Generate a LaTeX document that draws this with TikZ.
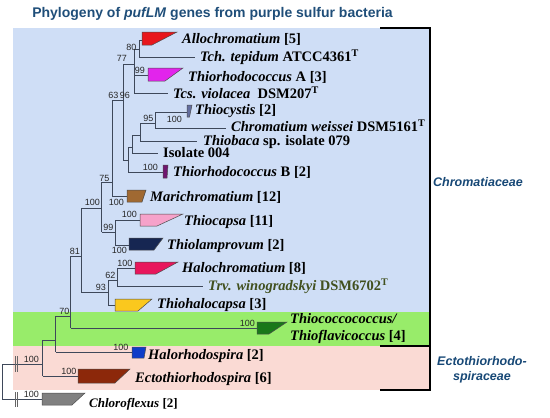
\documentclass[tikz,border=0pt]{standalone}
\usepackage{fontspec}
\setmainfont{Liberation Serif}
\setsansfont{Liberation Sans}
\definecolor{bgblue}{RGB}{207,222,246}
\definecolor{bggreen}{RGB}{152,236,106}
\definecolor{bgpink}{RGB}{250,218,212}
\definecolor{brcol}{RGB}{62,72,90}
\definecolor{titleblue}{RGB}{31,78,121}
\definecolor{famblue}{RGB}{23,72,118}
\definecolor{cAllo}{RGB}{232,22,28}
\definecolor{cThrA}{RGB}{226,36,236}
\definecolor{cTcy}{RGB}{100,110,160}
\definecolor{cThrB}{RGB}{112,22,112}
\definecolor{cMari}{RGB}{160,105,50}
\definecolor{cTcap}{RGB}{246,162,202}
\definecolor{cTlam}{RGB}{22,38,82}
\definecolor{cHcr}{RGB}{232,22,92}
\definecolor{cThc}{RGB}{250,200,30}
\definecolor{cTcc}{RGB}{25,120,25}
\definecolor{cHrs}{RGB}{15,60,200}
\definecolor{cEct}{RGB}{140,40,10}
\definecolor{cChl}{RGB}{128,128,128}
\definecolor{trvcol}{RGB}{65,80,30}
\newcommand{\brn}[2]{\draw[brl] (#1 |- #2) -- (#2);}
\newcommand{\vbr}[3]{\draw[brl] (#1 |- #2) -- (#1 |- #3);}
\newcommand{\trap}[6]{\filldraw[clade, fill=#1] (#2,#3) -- (#4,#3) -- (#5,#6) -- (#2,#6) -- cycle;}
\begin{document}
\begin{tikzpicture}[x=1pt,y=-1pt,
  brl/.style={draw=brcol, line width=0.9pt},
  clade/.style={draw=black!70, line width=0.5pt},
  brk/.style={draw=black!60, line width=0.9pt},
  bs/.style={font=\fontsize{9}{9}\selectfont\sffamily, inner sep=0pt, anchor=base east, text=black!85},
  leaf/.style={font=\fontsize{14.5}{16}\selectfont\bfseries, inner sep=0pt, anchor=base west},
  fam/.style={font=\fontsize{12.5}{15}\selectfont\sffamily\bfseries\itshape, text=famblue, align=center},
  ttl/.style={font=\fontsize{14}{16}\selectfont\sffamily\bfseries, text=titleblue}]
\useasboundingbox (0,0) rectangle (550,418);
% backgrounds
\fill[bgblue] (13,28) rectangle (430,312);
\fill[bggreen] (13,312) rectangle (430,346);
\fill[bgpink] (13,346) rectangle (430,390);
% brackets
\draw[line width=2pt] (380,28) -- (430,28) -- (430,390) -- (380,390);
\draw[line width=2pt] (380,346) -- (430,346);
% title and family labels
\node[ttl] (title) at (212.5,14) {Phylogeny of \textit{pufLM} genes from purple sulfur bacteria};
\node[fam] (chrom) at (478,182) {Chromatiaceae};
\node[fam] (ecto) at (482,369.5) {Ectothiorhodo-\\spiraceae};
% internal nodes
\coordinate (R) at (2,382);
\coordinate (A) at (42.7,364);
\coordinate (B) at (55.5,340);
\coordinate (C) at (70.7,316);
\coordinate (D) at (81,256);
\coordinate (E) at (101.7,208);
\coordinate (n75) at (112,182);
\coordinate (n63) at (123,100);
\coordinate (n77) at (134,64);
\coordinate (n80) at (139,49);
\coordinate (n96) at (134,84);
\coordinate (Y) at (128,160);
\coordinate (Z) at (132,147);
\coordinate (W) at (140,135);
\coordinate (n95) at (155,123.5);
\coordinate (n99) at (115,232);
\coordinate (n93) at (108,292);
\coordinate (n62) at (117,280);
% leaves
\coordinate (allo) at (142,40);
\coordinate (tch) at (195,57);
\coordinate (thrA) at (148,75);
\coordinate (tcs) at (168,93);
\coordinate (tcy) at (187,112);
\coordinate (chw) at (226,128);
\coordinate (thb) at (197,141);
\coordinate (iso) at (158,153);
\coordinate (thrB) at (163,172);
\coordinate (mari) at (127,196);
\coordinate (tcap) at (140,220);
\coordinate (tlam) at (129,245);
\coordinate (hcr) at (135,268);
\coordinate (trv) at (203,286);
\coordinate (thc) at (115,305);
\coordinate (tcc) at (257,328);
\coordinate (hrs) at (132,352);
\coordinate (ect) at (78,376);
\coordinate (chl) at (42,399);
% verticals
\vbr{R}{A}{chl}
\vbr{A}{B}{ect}
\vbr{B}{C}{hrs}
\vbr{C}{D}{tcc}
\vbr{D}{E}{n93}
\vbr{E}{n75}{n99}
\vbr{n75}{n63}{mari}
\vbr{n63}{n77}{Y}
\vbr{n77}{n80}{n96}
\vbr{n80}{allo}{tch}
\vbr{n96}{thrA}{tcs}
\vbr{Y}{Z}{thrB}
\vbr{Z}{W}{iso}
\vbr{W}{n95}{thb}
\vbr{n95}{tcy}{chw}
\vbr{n99}{tcap}{tlam}
\vbr{n93}{n62}{thc}
\vbr{n62}{hcr}{trv}
% horizontals
\brn{R}{A}\brn{R}{chl}
\brn{A}{B}\brn{A}{ect}
\brn{B}{C}\brn{B}{hrs}
\brn{C}{D}\brn{C}{tcc}
\brn{D}{E}\brn{D}{n93}
\brn{E}{n75}\brn{E}{n99}
\brn{n75}{n63}\brn{n75}{mari}
\brn{n63}{n77}\brn{n63}{Y}
\brn{n77}{n80}\brn{n77}{n96}
\brn{n80}{allo}\brn{n80}{tch}
\brn{n96}{thrA}\brn{n96}{tcs}
\brn{Y}{Z}\brn{Y}{thrB}
\brn{Z}{W}\brn{Z}{iso}
\brn{W}{n95}\brn{W}{thb}
\brn{n95}{tcy}\brn{n95}{chw}
\brn{n99}{tcap}\brn{n99}{tlam}
\brn{n93}{n62}\brn{n93}{thc}
\brn{n62}{hcr}\brn{n62}{trv}
% break marks
\draw[brk] (15.3,356) -- (15.3,372);
\draw[brk] (17.6,356) -- (17.6,372);
\draw[brk] (15.3,392) -- (15.3,407);
\draw[brk] (17.6,392) -- (17.6,407);
% collapsed clades
\trap{cAllo}{142}{32}{177}{152}{45}
\trap{cThrA}{148}{68}{183}{165}{81}
\trap{cTcy}{187}{105}{192}{189.5}{117}
\trap{cThrB}{163}{165}{168}{167}{178}
\trap{cMari}{127}{190}{146}{142}{202}
\trap{cTcap}{140}{214}{183}{157}{226}
\trap{cTlam}{129}{238}{163}{154}{250}
\trap{cHcr}{135}{262}{178}{156}{274}
\trap{cThc}{115}{299}{152}{138}{311}
\trap{cTcc}{257}{322}{287}{269}{334}
\trap{cHrs}{132}{347}{146}{144}{358}
\trap{cEct}{78}{369}{130}{115}{383}
\trap{cChl}{42}{393}{85}{72}{405}
% bootstrap values
\node[bs] (b80) at (136.5,50) {80};
\node[bs] (b77) at (127,61.5) {77};
\node[bs] (b99a) at (145,73) {99};
\node[bs] (b96) at (130,98) {96};
\node[bs] (b63) at (118.5,98) {63};
\node[bs] (b95) at (153.5,121.5) {95};
\node[bs] (b100tcy) at (182,122) {100};
\node[bs] (b100thrB) at (158,170) {100};
\node[bs] (b75) at (109.5,181) {75};
\node[bs] (b100E) at (100,205.5) {100};
\node[bs] (b100mari) at (124,205) {100};
\node[bs] (b99b) at (113.5,230) {99};
\node[bs] (b100tcap) at (137,217.5) {100};
\node[bs] (b100tlam) at (127,253) {100};
\node[bs] (b81) at (80,254.5) {81};
\node[bs] (b62) at (115.5,278) {62};
\node[bs] (b100hcr) at (132.5,266.5) {100};
\node[bs] (b93) at (106,290.5) {93};
\node[bs] (b70) at (69.5,314.5) {70};
\node[bs] (b100tcc) at (255,326) {100};
\node[bs] (b100hrs) at (128.5,350) {100};
\node[bs] (b100A) at (39,362.5) {100};
\node[bs] (b100ect) at (76.5,374) {100};
\node[bs] (b100chl) at (39,397.5) {100};
% leaf labels
\node[leaf] (Lallo) at (182,43.3) {\textit{Allochromatium} [5]};
\node[leaf] (Ltch) at (200,61.8) {\textit{Tch. tepidum} ATCC4361\textsuperscript{T}};
\node[leaf] (LthrA) at (188,81.8) {\textit{Thiorhodococcus} A [3]};
\node[leaf] (Ltcs) at (173,98.8) {\textit{Tcs. violacea}\ \ DSM207\textsuperscript{T}};
\node[leaf] (Ltcy) at (195,114.8) {\textit{Thiocystis} [2]};
\node[leaf] (Lchw) at (231,131.8) {\textit{Chromatium weissei} DSM5161\textsuperscript{T}};
\node[leaf] (Lthb) at (203,145.3) {\textit{Thiobaca} sp. isolate 079};
\node[leaf] (Liso) at (163,157.8) {Isolate 004};
\node[leaf] (LthrB) at (173,176.8) {\textit{Thiorhodococcus} B [2]};
\node[leaf] (Lmari) at (150,201.8) {\textit{Marichromatium} [12]};
\node[leaf] (Ltcap) at (184,225.8) {\textit{Thiocapsa} [11]};
\node[leaf] (Ltlam) at (167,249.8) {\textit{Thiolamprovum} [2]};
\node[leaf] (Lhcr) at (182,272.8) {\textit{Halochromatium} [8]};
\node[leaf, text=trvcol] (Ltrv) at (208,290.8) {\textit{Trv. winogradskyi} DSM6702\textsuperscript{T}};
\node[leaf] (Lthc) at (157,308.8) {\textit{Thiohalocapsa} [3]};
\node[leaf] (Ltcc1) at (290,323.8) {\textit{Thiococcococcus/}};
\node[leaf] (Ltcc2) at (290,340.8) {\textit{Thioflavicoccus} [4]};
\node[leaf] (Lhrs) at (148,359.8) {\textit{Halorhodospira} [2]};
\node[leaf] (Lect) at (135,382.8) {\textit{Ectothiorhodospira} [6]};
\node[leaf, font=\fontsize{13}{14}\selectfont\bfseries] (Lchl) at (89,407.5) {\textit{Chloroflexus} [2]};
\end{tikzpicture}
\end{document}
